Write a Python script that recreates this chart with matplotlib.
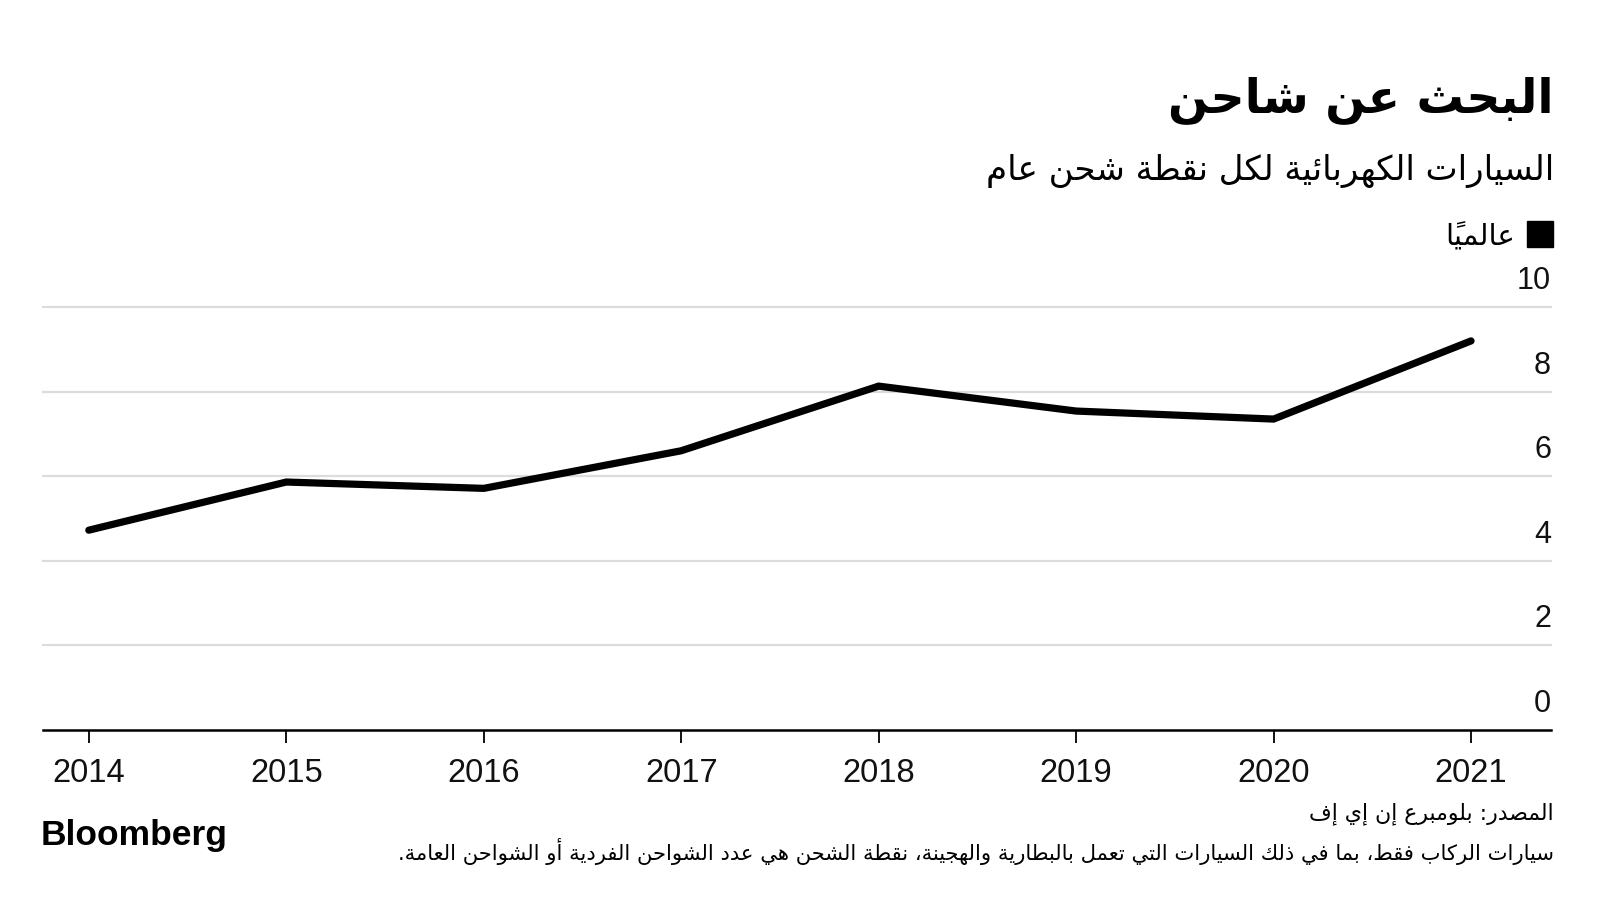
import matplotlib

matplotlib.use("Agg")
import matplotlib.pyplot as plt  # noqa: E402
import matplotlib.transforms as mtransforms  # noqa: E402

# --- data ---
years = [2014, 2015, 2016, 2017, 2018, 2019, 2020, 2021]
evs_per_charger = [4.72, 5.86, 5.71, 6.60, 8.13, 7.54, 7.35, 9.20]
y_ticks = [0, 2, 4, 6, 8, 10]
x_tick_labels = [str(y) for y in years]

title = "البحث عن شاحن"
subtitle = "السيارات الكهربائية لكل نقطة شحن عام"
legend_label = "عالمياً"
source = "المصدر: بلومبرع إن إي إف"
footnote = ("سيارات الركاب فقط، بما في ذلك السيارات التي تعمل بالبطارية والهجينة، "
            "نقطة الشحن هي عدد الشواحن الفردية أو الشواحن العامة.")

# --- minimal arabic shaping (matplotlib has no bidi / joining) ---
RIGHT_JOIN = set("آأؤإاةدذرزوى")
FORMS = {}
_code = 0xFE80
for cp in list(range(0x0621, 0x063B)) + list(range(0x0641, 0x064B)):
    ch = chr(cp)
    n = 1 if ch == "ء" else (2 if ch in RIGHT_JOIN else 4)
    FORMS[ch] = (_code, n)
    _code += n
LAM_ALEF = {"آ": 0xFEF5, "أ": 0xFEF7, "إ": 0xFEF9, "ا": 0xFEFB}
MARKS = set(chr(c) for c in list(range(0x064B, 0x0660)) + [0x0670])


def shape(text):
    clusters = []
    i = 0
    while i < len(text):
        base = text[i]
        j = i + 1
        if base == "ل" and j < len(text) and text[j] in LAM_ALEF:
            base = ("la", text[j])
            j += 1
        marks = ""
        while j < len(text) and text[j] in MARKS:
            marks += text[j]
            j += 1
        clusters.append((base, marks))
        i = j

    def joins_next(b):  # can connect to the following letter
        return isinstance(b, str) and b in FORMS and FORMS[b][1] == 4

    def joins_prev(b):  # can connect to the preceding letter
        if isinstance(b, tuple):
            return True
        return b in FORMS and FORMS[b][1] >= 2

    out = []
    for k, (b, m) in enumerate(clusters):
        p = k > 0 and joins_next(clusters[k - 1][0])
        nx = k + 1 < len(clusters) and joins_prev(clusters[k + 1][0])
        if isinstance(b, tuple):
            g = chr(LAM_ALEF[b[1]] + (1 if p else 0))
        elif b in FORMS:
            start, n = FORMS[b]
            if n == 1:
                g = chr(start)
            elif n == 2:
                g = chr(start + (1 if p else 0))
            else:
                if p and nx:
                    g = chr(start + 3)
                elif p:
                    g = chr(start + 1)
                elif nx:
                    g = chr(start + 2)
                else:
                    g = chr(start)
        else:
            g = b
        out.append(g + m)
    return "".join(reversed(out))


def fx(px):
    return px / 1600


def fy(py):
    return 1 - py / 900


def main() -> None:
    plt.rcParams["font.family"] = ["DejaVu Sans"]
    fig = plt.figure(figsize=(16, 9), dpi=100)
    fig.patch.set_facecolor("white")

    ax = fig.add_axes([fx(43), fy(729.6), fx(1551) - fx(43), fy(302.9) - fy(729.6)])
    ax.set_xlim(2013.768, 2021.405)
    ax.set_ylim(0, 10.1)

    for v in y_ticks[1:]:
        ax.axhline(v, color="#dcdcdc", lw=1.6, zorder=1, clip_on=False)

    ax.plot(years, evs_per_charger, color="black", lw=5.2,
            solid_capstyle="round", solid_joinstyle="miter", zorder=3)

    for s in ["top", "left", "right"]:
        ax.spines[s].set_visible(False)
    ax.spines["bottom"].set_linewidth(1.8)
    ax.spines["bottom"].set_color("black")
    ax.set_yticks([])
    ax.set_xticks(years)
    ax.set_xticklabels(x_tick_labels, fontfamily="Liberation Sans", fontsize=23.5,
                       color="#111111")
    ax.tick_params(axis="x", length=9.5, width=1.3, pad=11, color="black")

    offset = mtransforms.ScaledTranslation(0, 18 / 100, fig.dpi_scale_trans)
    trans = mtransforms.blended_transform_factory(ax.transAxes, ax.transData) + offset
    for v in y_ticks:
        ax.text(1.0, v, str(v), transform=trans, ha="right", va="baseline",
                fontfamily="Liberation Sans", fontsize=22, color="#111111")

    fig.text(fx(1554), fy(112), shape(title), ha="right", va="baseline",
             fontsize=34, fontweight="bold", color="black")
    fig.text(fx(1554), fy(180), shape(subtitle), ha="right", va="baseline",
             fontsize=24.5, color="black")

    fig.patches.append(plt.Rectangle((fx(1527), fy(247)), fx(26), 26 / 900,
                                     transform=fig.transFigure, color="black"))
    fig.text(fx(1515), fy(245), shape(legend_label), ha="right", va="baseline",
             fontsize=21, color="black")

    fig.text(fx(1554), fy(819), shape(source), ha="right", va="baseline",
             fontsize=15.8, color="black")
    fig.text(fx(1554), fy(860), shape(footnote), ha="right", va="baseline",
             fontsize=15.2, color="black")

    fig.text(fx(41), fy(845), "Bloomberg", ha="left", va="baseline",
             fontfamily="Liberation Sans", fontweight="bold", fontsize=25.5,
             color="black")

    fig.savefig("out.png", dpi=100, facecolor="white")
    plt.close(fig)


if __name__ == "__main__":
    main()
